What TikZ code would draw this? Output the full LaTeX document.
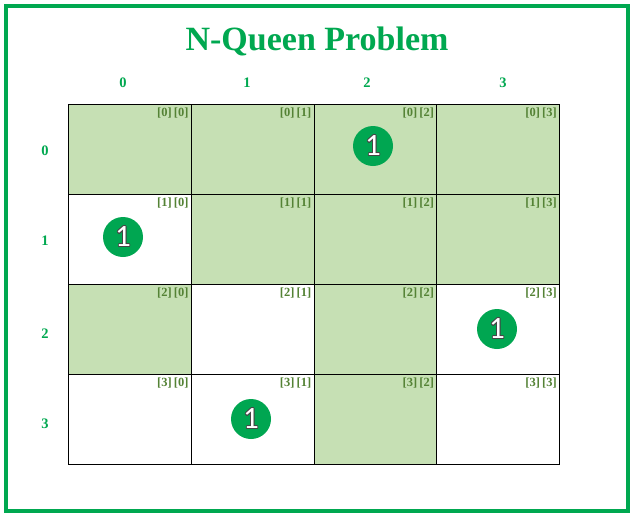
\documentclass[tikz,border=0pt]{standalone}
\usepackage{fontspec}
\usepackage[copies]{contour}
\contourlength{0.7pt}
\contournumber{16}
\setmainfont{Liberation Serif}
\newfontfamily\qfont{Carlito}
\definecolor{brdgreen}{RGB}{0,168,80}
\definecolor{cellgreen}{RGB}{198,224,180}
\definecolor{lblgreen}{RGB}{84,130,53}
\definecolor{qgreen}{RGB}{0,166,81}
\definecolor{qedge}{RGB}{70,70,70}
\tikzset{
  frame/.style={draw=brdgreen, line width=4pt},
  cellbox/.style={draw=black, line width=0.9pt, minimum width=122.75pt, minimum height=90pt, inner sep=0pt, anchor=north west},
  shaded/.style={fill=cellgreen},
  idx/.style={font=\fontsize{12.5}{13}\selectfont\bfseries, text=lblgreen, anchor=north east, inner sep=0pt},
  axislbl/.style={font=\fontsize{14.5}{15}\selectfont\bfseries, text=brdgreen},
  queen/.style={circle, fill=qgreen, minimum size=40pt, inner sep=0pt, font=\qfont\fontsize{31}{31}\selectfont},
}
\newcommand{\qdigit}{\contour{qedge}{\textcolor{white}{1}}}
\begin{document}
\begin{tikzpicture}[x=1pt,y=-1pt]
\useasboundingbox (0,0) rectangle (634,517);
\fill[white] (0,0) rectangle (634,517);
\draw[frame] (6,6) rectangle (628,511);
\node[font=\fontsize{34}{36}\selectfont\bfseries, text=brdgreen] (title) at (317,41) {N-Queen Problem};
% column labels
\node[axislbl] (c0) at (123,83) {0};
\node[axislbl] (c1) at (247,83) {1};
\node[axislbl] (c2) at (367,83) {2};
\node[axislbl] (c3) at (503,83) {3};
% row labels
\node[axislbl] (r0) at (45,151) {0};
\node[axislbl] (r1) at (45,241) {1};
\node[axislbl] (r2) at (45,334) {2};
\node[axislbl] (r3) at (45,424) {3};
% cells
\foreach \r/\c/\s in {0/0/1,0/1/1,0/2/1,0/3/1,1/0/0,1/1/1,1/2/1,1/3/1,2/0/1,2/1/0,2/2/1,2/3/0,3/0/0,3/1/0,3/2/1,3/3/0}{
  \pgfmathsetmacro{\xx}{68+122.75*\c}
  \pgfmathsetmacro{\yy}{104+90*\r}
  \ifnum\s=1
    \node[cellbox, shaded] (cell\r\c) at (\xx,\yy) {};
  \else
    \node[cellbox] (cell\r\c) at (\xx,\yy) {};
  \fi
  \node[idx] (lbl\r\c) at ([xshift=-3pt,yshift=-4pt]cell\r\c.north east) {[\r]\,[\c]};
}
% queens
\node[queen] (qa) at (373,146) {\qdigit};
\node[queen] (qb) at (123,237) {\qdigit};
\node[queen] (qc) at (497,329) {\qdigit};
\node[queen] (qd) at (251,419) {\qdigit};
\end{tikzpicture}
\end{document}
